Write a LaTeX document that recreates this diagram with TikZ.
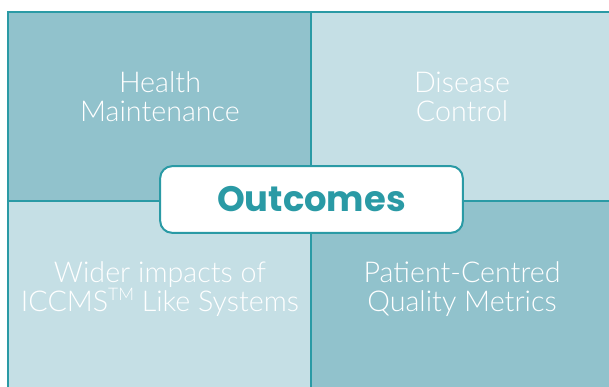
\documentclass[tikz,border=0pt]{standalone}
\usepackage{fontspec}
\IfFontExistsTF{Lato Light}{\newfontfamily\quadfont{Lato Light}}{\newfontfamily\quadfont{Lato}}
\newfontfamily\headfont{Poppins}
\definecolor{frameteal}{HTML}{2A9AA5}
\definecolor{quaddark}{HTML}{91C2CC}
\definecolor{quadlight}{HTML}{C5DFE5}
\begin{document}
\begin{tikzpicture}[x=0.75pt,y=-0.75pt,
  quadtext/.style={text=white,font=\quadfont\fontsize{21.5}{22}\selectfont,align=center},
  outcomebox/.style={draw=frameteal,line width=1.5pt,fill=white,rounded corners=9pt,
    minimum width=227pt,minimum height=50pt,inner sep=0pt,text=frameteal,
    font=\headfont\bfseries\fontsize{26.5}{30}\selectfont}]
\useasboundingbox (0,0) rectangle (609,386);
\fill[white] (0,0) rectangle (609,386);
% quadrants
\fill[quaddark] (8,12) rectangle (311,201);
\fill[quadlight] (311,12) rectangle (614,201);
\fill[quadlight] (8,201) rectangle (311,390);
\fill[quaddark] (311,201) rectangle (614,390);
\draw[frameteal,line width=1.5pt] (8,12) rectangle (614,390);
\draw[frameteal,line width=1.5pt] (311,12) -- (311,390);
\draw[frameteal,line width=1.5pt] (8,201) -- (614,201);
% labels
\node[quadtext] (health) at (160,97) {Health\\Maintenance};
\node[quadtext] (disease) at (462,97) {Disease\\Control};
\node[quadtext] (wider) at (160,289) {Wider impacts of\\ICCMS{\fontsize{13}{13}\selectfont\raisebox{0.62em}{TM}} Like Systems};
\node[quadtext] (patient) at (462,289) {Patient-Centred\\Quality Metrics};
\node[outcomebox] (outcomes) at (311.5,199.5) {Outcomes};
\end{tikzpicture}
\end{document}
